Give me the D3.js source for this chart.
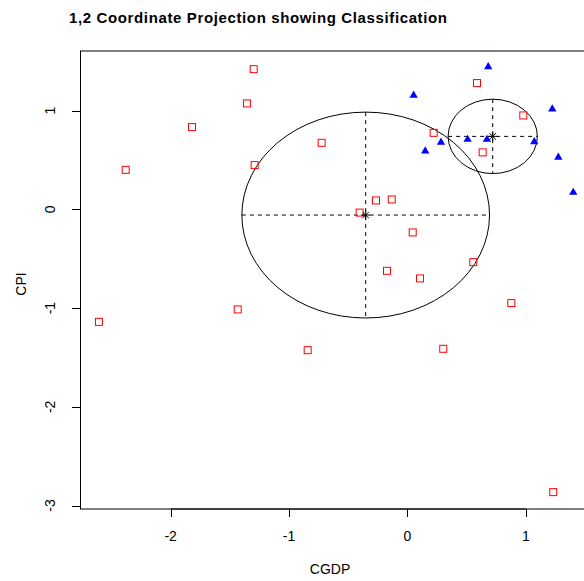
<!DOCTYPE html>
<html>
<head>
<meta charset="utf-8">
<script src="https://cdn.jsdelivr.net/npm/d3@7/dist/d3.min.js"></script>
<style>
  html, body { margin: 0; padding: 0; background: #fff; }
  svg { display: block; font-family: Arial, "Liberation Sans", Helvetica, sans-serif; }
</style>
</head>
<body>
<svg id="chart" width="584" height="581"></svg>
<script>
// Class 1 observations (red open squares)
const cgdpClass1 = [-1.299, -1.356, -1.820, -2.380, -1.291, -0.725, -2.606, -1.434, -0.843,
                    -0.404, -0.266, -0.133, 0.044, -0.173, 0.106, 0.556, 0.877, 0.302,
                    1.231, 0.221, 0.635, 0.978, 0.587];
const cpiClass1  = [1.421, 1.074, 0.834, 0.401, 0.449, 0.675, -1.139, -1.013, -1.426,
                    -0.032, 0.091, 0.101, -0.233, -0.622, -0.699, -0.534, -0.949, -1.412,
                    -2.864, 0.776, 0.578, 0.952, 1.280];

// Class 2 observations (blue filled triangles)
const cgdpClass2 = [0.682, 0.052, 1.223, 0.283, 0.508, 0.671, 1.071, 0.150, 1.274, 1.400];
const cpiClass2  = [1.445, 1.155, 1.016, 0.679, 0.709, 0.709, 0.685, 0.591, 0.527, 0.172];

// Class centres and spread (axis radii in data units)
const centreCgdp = [-0.353, 0.720];
const centreCpi  = [-0.057, 0.740];
const radiusCgdp = [1.046, 0.377];
const radiusCpi  = [1.043, 0.377];

// Axis ticks and labels
const xTicks = [-2, -1, 0, 1];
const yTicks = [-3, -2, -1, 0, 1];
const titleText = "1,2 Coordinate Projection showing Classification";
const xLabel = "CGDP";
const yLabel = "CPI";

const svg = d3.select("#chart");

// Plot region (the right side runs past the window edge)
const plot = { left: 80, right: 600, top: 51, bottom: 509 };

const x = d3.scaleLinear().domain([-2.766, 1.626]).range([plot.left, plot.right]);
const y = d3.scaleLinear().domain([-3.035, 1.605]).range([plot.bottom, plot.top]);

// Title
svg.append("text")
  .attr("x", 69).attr("y", 23)
  .attr("font-size", 15).attr("font-weight", "bold")
  .attr("textLength", 378).attr("lengthAdjust", "spacing")
  .attr("fill", "#000")
  .text(titleText);

// Plot box
svg.append("rect")
  .attr("x", plot.left + 0.5).attr("y", plot.top)
  .attr("width", plot.right - plot.left).attr("height", plot.bottom - plot.top)
  .attr("fill", "none").attr("stroke", "#000").attr("stroke-width", 1);

// Bottom axis
const xAxis = svg.append("g").attr("class", "x-axis");
xAxis.append("line")
  .attr("x1", x(xTicks[0])).attr("x2", x(xTicks[xTicks.length - 1]))
  .attr("y1", plot.bottom).attr("y2", plot.bottom)
  .attr("stroke", "#000").attr("stroke-width", 1);
xAxis.selectAll("line.tick").data(xTicks).join("line")
  .attr("class", "tick")
  .attr("x1", d => Math.round(x(d)) + 0.5).attr("x2", d => Math.round(x(d)) + 0.5)
  .attr("y1", plot.bottom).attr("y2", plot.bottom + 8)
  .attr("stroke", "#000").attr("stroke-width", 1);
xAxis.selectAll("text").data(xTicks).join("text")
  .attr("x", d => x(d)).attr("y", 541)
  .attr("text-anchor", "middle").attr("font-size", 14).attr("fill", "#000")
  .text(d => d);

// Left axis
const yAxis = svg.append("g").attr("class", "y-axis");
yAxis.append("line")
  .attr("x1", plot.left + 0.5).attr("x2", plot.left + 0.5)
  .attr("y1", y(yTicks[0])).attr("y2", y(yTicks[yTicks.length - 1]))
  .attr("stroke", "#000").attr("stroke-width", 1);
yAxis.selectAll("line.tick").data(yTicks).join("line")
  .attr("class", "tick")
  .attr("x1", plot.left - 8).attr("x2", plot.left)
  .attr("y1", d => Math.round(y(d)) + 0.5).attr("y2", d => Math.round(y(d)) + 0.5)
  .attr("stroke", "#000").attr("stroke-width", 1);
yAxis.selectAll("text").data(yTicks).join("text")
  .attr("transform", d => `translate(55,${y(d)}) rotate(-90)`)
  .attr("text-anchor", "middle").attr("font-size", 14).attr("fill", "#000")
  .text(d => d);

// Axis titles
svg.append("text")
  .attr("x", 330).attr("y", 574)
  .attr("text-anchor", "middle").attr("font-size", 14).attr("fill", "#000")
  .text(xLabel);
svg.append("text")
  .attr("transform", `translate(26,284) rotate(-90)`)
  .attr("text-anchor", "middle").attr("font-size", 14).attr("fill", "#000")
  .text(yLabel);

// Class ellipses with dashed cross-hairs
const groups = d3.range(centreCgdp.length).map(i => ({
  cx: centreCgdp[i], cy: centreCpi[i], rx: radiusCgdp[i], ry: radiusCpi[i]
}));
const ell = svg.append("g").attr("class", "ellipses");
ell.selectAll("ellipse").data(groups).join("ellipse")
  .attr("cx", d => x(d.cx)).attr("cy", d => y(d.cy))
  .attr("rx", d => x(d.cx + d.rx) - x(d.cx))
  .attr("ry", d => y(d.cy) - y(d.cy + d.ry))
  .attr("fill", "none").attr("stroke", "#000").attr("stroke-width", 1);
ell.selectAll("line.h").data(groups).join("line")
  .attr("class", "h")
  .attr("x1", d => x(d.cx - d.rx)).attr("x2", d => x(d.cx + d.rx))
  .attr("y1", d => y(d.cy)).attr("y2", d => y(d.cy))
  .attr("stroke", "#000").attr("stroke-width", 1).attr("stroke-dasharray", "4,4");
ell.selectAll("line.v").data(groups).join("line")
  .attr("class", "v")
  .attr("x1", d => x(d.cx)).attr("x2", d => x(d.cx))
  .attr("y1", d => y(d.cy + d.ry)).attr("y2", d => y(d.cy - d.ry))
  .attr("stroke", "#000").attr("stroke-width", 1).attr("stroke-dasharray", "4,4");

// Class 1 points: open red squares
const class1 = cgdpClass1.map((v, i) => [v, cpiClass1[i]]);
svg.append("g").selectAll("rect").data(class1).join("rect")
  .attr("x", d => x(d[0]) - 3.5).attr("y", d => y(d[1]) - 3.5)
  .attr("width", 7).attr("height", 7)
  .attr("fill", "none").attr("stroke", "#ff0000").attr("stroke-width", 1);

// Class 2 points: filled blue triangles
const class2 = cgdpClass2.map((v, i) => [v, cpiClass2[i]]);
const tri = d3.symbol().type(d3.symbolTriangle).size(30);
svg.append("g").selectAll("path").data(class2).join("path")
  .attr("transform", d => `translate(${x(d[0])},${y(d[1])})`)
  .attr("d", tri)
  .attr("fill", "#0000ff");

// Centre markers (asterisk)
const star = svg.append("g").attr("class", "centres");
groups.forEach(d => {
  const cx = x(d.cx), cy = y(d.cy), r = 4.5, q = r * 0.72;
  const g = star.append("g").attr("stroke", "#000").attr("stroke-width", 1);
  g.append("line").attr("x1", cx - r).attr("x2", cx + r).attr("y1", cy).attr("y2", cy);
  g.append("line").attr("x1", cx).attr("x2", cx).attr("y1", cy - r).attr("y2", cy + r);
  g.append("line").attr("x1", cx - q).attr("x2", cx + q).attr("y1", cy - q).attr("y2", cy + q);
  g.append("line").attr("x1", cx - q).attr("x2", cx + q).attr("y1", cy + q).attr("y2", cy - q);
});
</script>
</body>
</html>
